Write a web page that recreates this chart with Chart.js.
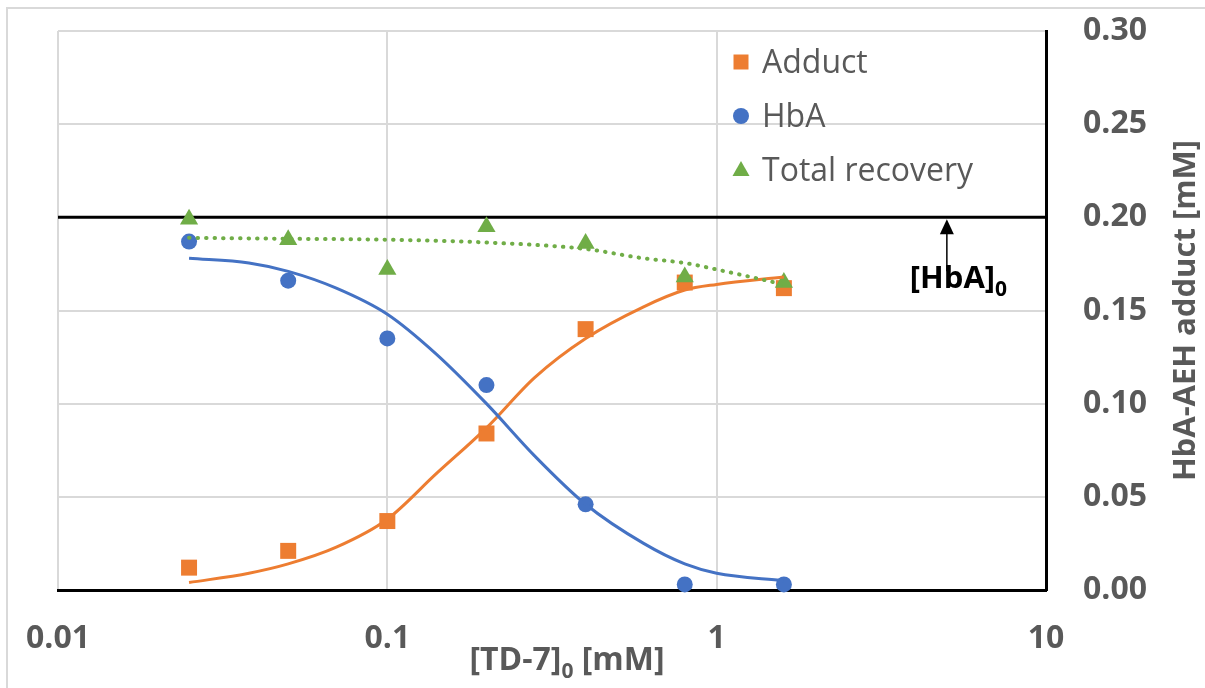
<!DOCTYPE html>
<html>
<head>
<meta charset="utf-8">
<script src="https://cdn.jsdelivr.net/npm/chart.js@4.4.1/dist/chart.umd.min.js"></script>
<style>
  html, body { margin: 0; padding: 0; background: #fff; }
  #wrap { width: 1205px; height: 688px; position: relative; }
</style>
</head>
<body>
<div id="wrap"><canvas id="chart" width="1205" height="688"></canvas></div>
<script>
// measured points, [TD-7]0 in mM
const td7Conc = [0.025, 0.05, 0.1, 0.2, 0.4, 0.8, 1.6];
const adductConc = [0.012, 0.021, 0.037, 0.084, 0.140, 0.165, 0.162];
const hbaConc = [0.187, 0.166, 0.135, 0.110, 0.046, 0.003, 0.003];
const totalRecovery = [0.199, 0.188, 0.172, 0.195, 0.186, 0.168, 0.165];

// fitted curves
const fitConc = [0.025, 0.038, 0.05, 0.07, 0.1, 0.14, 0.2, 0.28, 0.4, 0.6, 0.8, 1.0, 1.6];
const adductFit = [0.004, 0.009, 0.014, 0.023, 0.038, 0.062, 0.087, 0.114, 0.135, 0.152, 0.161, 0.164, 0.168];
const hbaFit = [0.178, 0.1755, 0.171, 0.162, 0.148, 0.127, 0.100, 0.072, 0.046, 0.025, 0.014, 0.009, 0.005];
const totalFitConc = [0.025, 0.05, 0.1, 0.2, 0.4, 0.6, 0.8, 1.0, 1.6];
const totalFit = [0.189, 0.1885, 0.188, 0.1865, 0.183, 0.178, 0.1755, 0.172, 0.164];

// initial HbA level and its marker arrow
const hba0 = 0.2;
const hba0Span = [0.01, 10];
const hba0ArrowX = 5;
const hba0ArrowFoot = 0.171;

const xTicks = [0.01, 0.1, 1, 10];
const xTickLabels = ['0.01', '0.1', '1', '10'];
const yTicks = [0, 0.05, 0.1, 0.15, 0.2, 0.25, 0.3];
const yTickLabels = ['0.00', '0.05', '0.10', '0.15', '0.20', '0.25', '0.30'];

const ORANGE = '#ED7D31';
const BLUE = '#4472C4';
const GREEN = '#70AD47';
const GREY_TEXT = '#595959';
const GRID = '#D9D9D9';
const FONT = '"Open Sans", "Liberation Sans", sans-serif';

const pts = (xs, ys) => xs.map((x, i) => ({ x: x, y: ys[i] }));

// the plot box is pinned by layout.padding, so drop the label overhang padding
function noOverhang(s) {
  s.paddingTop = 0;
  s.paddingBottom = 0;
  s.paddingLeft = 0;
  s.paddingRight = 0;
}

// text with a subscript piece: parts = [[text, isSub], ...]
function drawRich(ctx, parts, x, y, size, subSize, align) {
  const widths = parts.map(p => {
    ctx.font = 'bold ' + (p[1] ? subSize : size) + 'px ' + FONT;
    return ctx.measureText(p[0]).width;
  });
  const total = widths.reduce((a, b) => a + b, 0);
  let cx = align === 'center' ? x - total / 2 : x;
  ctx.textAlign = 'left';
  ctx.textBaseline = 'alphabetic';
  parts.forEach((p, i) => {
    ctx.font = 'bold ' + (p[1] ? subSize : size) + 'px ' + FONT;
    ctx.fillText(p[0], cx, p[1] ? y + size * 0.25 : y);
    cx += widths[i];
  });
}

function drawMarker(ctx, style, x, y, color) {
  ctx.fillStyle = color;
  ctx.beginPath();
  if (style === 'rect') {
    ctx.rect(x - 7.5, y - 7.5, 15, 15);
  } else if (style === 'circle') {
    ctx.arc(x, y, 8, 0, Math.PI * 2);
  } else {
    ctx.moveTo(x, y - 9);
    ctx.lineTo(x + 8.5, y + 6);
    ctx.lineTo(x - 8.5, y + 6);
    ctx.closePath();
  }
  ctx.fill();
}

const extras = {
  id: 'extras',
  beforeDraw(chart) {
    const ctx = chart.ctx;
    ctx.save();
    ctx.fillStyle = '#fff';
    ctx.fillRect(0, 0, chart.width, chart.height);
    ctx.strokeStyle = GRID;
    ctx.lineWidth = 2;
    ctx.strokeRect(7, 8, chart.width + 10, chart.height + 10);
    ctx.restore();
  },
  afterDraw(chart) {
    const ctx = chart.ctx;
    const xs = chart.scales.x;
    const ys = chart.scales.y;
    const area = chart.chartArea;
    ctx.save();

    // arrow pointing up at the [HbA]0 line
    const ax = xs.getPixelForValue(hba0ArrowX);
    const yTip = ys.getPixelForValue(hba0) + 2;
    const yFoot = ys.getPixelForValue(hba0ArrowFoot);
    ctx.strokeStyle = '#000';
    ctx.fillStyle = '#000';
    ctx.lineWidth = 1.5;
    ctx.beginPath();
    ctx.moveTo(ax, yFoot);
    ctx.lineTo(ax, yTip + 12);
    ctx.stroke();
    ctx.beginPath();
    ctx.moveTo(ax, yTip);
    ctx.lineTo(ax + 7, yTip + 15);
    ctx.lineTo(ax - 7, yTip + 15);
    ctx.closePath();
    ctx.fill();

    ctx.fillStyle = '#000';
    drawRich(ctx, [['[HbA]', false], ['0', true]], ax - 37, yFoot + 17, 31, 21, 'left');

    // axis titles
    ctx.fillStyle = GREY_TEXT;
    drawRich(ctx, [['[TD-7]', false], ['0', true], [' [mM]', false]],
      (area.left + area.right) / 2 + 15, 670, 32, 21, 'center');

    ctx.save();
    ctx.translate(1186, (area.top + area.bottom) / 2);
    ctx.rotate(-Math.PI / 2);
    ctx.font = 'bold 31px ' + FONT;
    ctx.textAlign = 'center';
    ctx.textBaseline = 'middle';
    ctx.fillText('HbA-AEH adduct [mM]', 0, 0);
    ctx.restore();

    // legend for the measured series
    const legendItems = chart.data.datasets.filter(d => d.inLegend);
    legendItems.forEach((d, i) => {
      const base = 73 + i * 54;
      drawMarker(ctx, d.pointStyle, 741, base - 11, d.backgroundColor);
      ctx.fillStyle = GREY_TEXT;
      ctx.font = '32px ' + FONT;
      ctx.textAlign = 'left';
      ctx.textBaseline = 'alphabetic';
      ctx.fillText(d.label, 762, base);
    });
    ctx.restore();
  }
};

new Chart(document.getElementById('chart'), {
  type: 'scatter',
  data: {
    datasets: [
      {
        label: '[HbA]0',
        data: pts(hba0Span, [hba0, hba0]),
        showLine: true,
        borderColor: '#000',
        borderWidth: 3,
        pointRadius: 0,
        order: 10
      },
      {
        label: 'Adduct',
        inLegend: true,
        data: pts(td7Conc, adductConc),
        pointStyle: 'rect',
        pointRadius: 11.3,
        backgroundColor: ORANGE,
        borderColor: ORANGE,
        borderWidth: 0,
        clip: false,
        order: 9
      },
      {
        label: 'HbA',
        inLegend: true,
        data: pts(td7Conc, hbaConc),
        pointStyle: 'circle',
        pointRadius: 8,
        backgroundColor: BLUE,
        borderColor: BLUE,
        borderWidth: 0,
        clip: false,
        order: 8
      },
      {
        label: 'Total recovery',
        inLegend: true,
        data: pts(td7Conc, totalRecovery),
        pointStyle: 'triangle',
        pointRadius: 10.5,
        backgroundColor: GREEN,
        borderColor: GREEN,
        borderWidth: 0,
        clip: false,
        order: 7
      },
      {
        label: 'Adduct fit',
        data: pts(fitConc, adductFit),
        showLine: true,
        borderColor: ORANGE,
        borderWidth: 3,
        pointRadius: 0,
        cubicInterpolationMode: 'monotone',
        order: 3
      },
      {
        label: 'HbA fit',
        data: pts(fitConc, hbaFit),
        showLine: true,
        borderColor: BLUE,
        borderWidth: 3,
        pointRadius: 0,
        cubicInterpolationMode: 'monotone',
        order: 2
      },
      {
        label: 'Total recovery fit',
        data: pts(totalFitConc, totalFit),
        showLine: true,
        borderColor: GREEN,
        borderWidth: 4,
        borderDash: [0.5, 8],
        borderCapStyle: 'round',
        pointRadius: 0,
        cubicInterpolationMode: 'monotone',
        order: 1
      }
    ]
  },
  options: {
    responsive: false,
    devicePixelRatio: 1,
    animation: false,
    layout: { padding: { left: 58, top: 31, right: 0, bottom: 0 } },
    plugins: {
      legend: { display: false },
      tooltip: { enabled: false }
    },
    scales: {
      x: {
        type: 'logarithmic',
        position: 'bottom',
        min: 0.01,
        max: 10,
        afterBuildTicks: s => { s.ticks = xTicks.map(v => ({ value: v, major: true })); },
        afterFit: s => { s.height = 98; noOverhang(s); },
        grid: { color: GRID, lineWidth: 2, drawTicks: false },
        border: { color: '#000', width: 3 },
        ticks: {
          autoSkip: false,
          maxRotation: 0,
          padding: 30,
          color: GREY_TEXT,
          font: { family: FONT, size: 32, weight: 'bold' },
          callback: (v, i) => xTickLabels[i]
        }
      },
      y: {
        type: 'linear',
        position: 'right',
        min: 0,
        max: 0.3,
        afterBuildTicks: s => { s.ticks = yTicks.map(v => ({ value: v })); },
        afterFit: s => { s.width = 159; noOverhang(s); },
        grid: { color: GRID, lineWidth: 2, drawTicks: false },
        border: { color: '#000', width: 3 },
        ticks: {
          padding: 37,
          color: GREY_TEXT,
          font: { family: FONT, size: 32, weight: 'bold' },
          callback: (v, i) => yTickLabels[i]
        }
      }
    }
  },
  plugins: [extras]
});
</script>
</body>
</html>
